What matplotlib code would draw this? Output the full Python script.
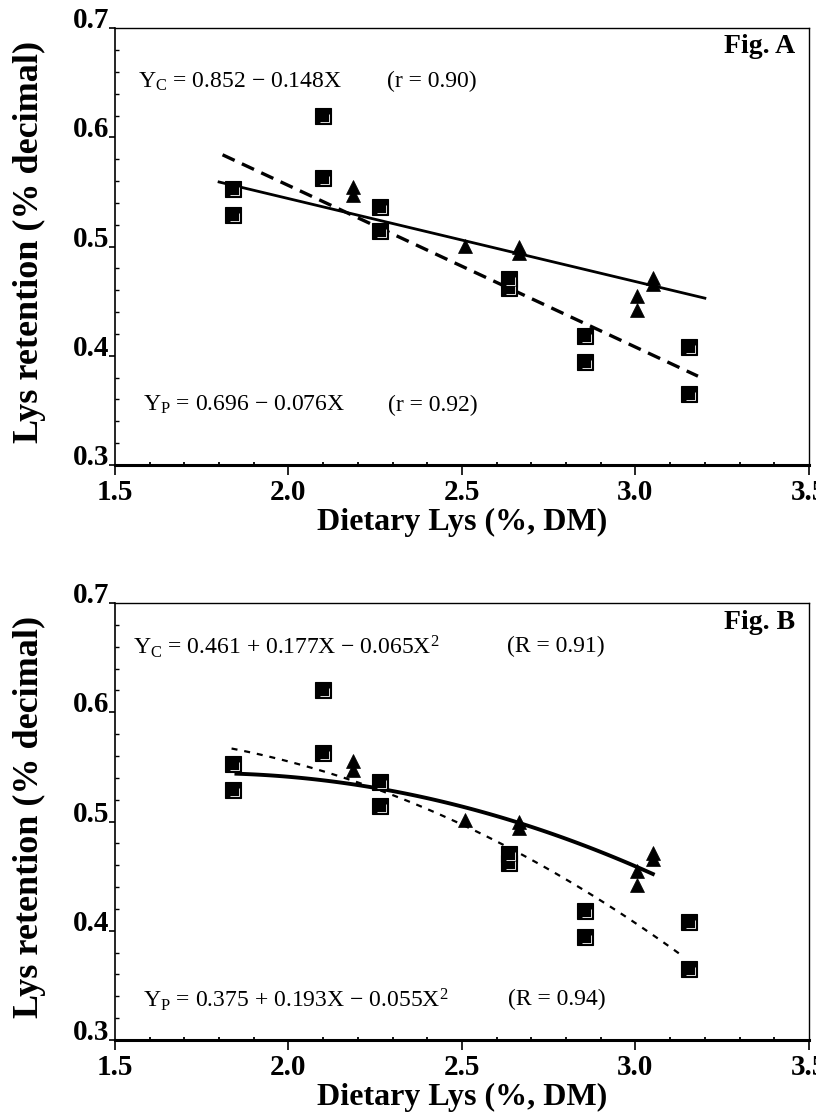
import numpy as np
import matplotlib
matplotlib.use('Agg')
import matplotlib.pyplot as plt
from matplotlib.path import Path
from matplotlib.ticker import MultipleLocator

plt.rcParams['font.family'] = ['Liberation Serif', 'DejaVu Serif']
plt.rcParams['mathtext.fontset'] = 'custom'
plt.rcParams['mathtext.rm'] = 'Liberation Serif'
plt.rcParams['mathtext.it'] = 'Liberation Serif:italic'
plt.rcParams['mathtext.bf'] = 'Liberation Serif:bold'

# ---------------- data ----------------
sq_x = [1.84, 1.84, 2.10, 2.10, 2.264, 2.264, 2.635, 2.635, 2.854, 2.854, 3.154, 3.154]
sq_y = [0.553, 0.529, 0.620, 0.563, 0.536, 0.514, 0.470, 0.462, 0.418, 0.394, 0.408, 0.365]
tri_x = [2.186, 2.186, 2.509, 2.664, 2.664, 3.004, 3.004, 3.050, 3.050]
tri_y = [0.555, 0.547, 0.501, 0.500, 0.494, 0.455, 0.442, 0.471, 0.466]

# regression coefficients (constant, X, X^2)
lin_c = [0.852, -0.148]          # Y_C, dashed (Fig. A)
lin_p = [0.696, -0.076]          # Y_P, solid  (Fig. A)
quad_c = [0.461, 0.177, -0.065]  # Y_C, dashed (Fig. B)
quad_p = [0.375, 0.193, -0.055]  # Y_P, solid  (Fig. B)
span_lin_c = [1.81, 3.18]
span_lin_p = [1.80, 3.20]
span_quad_c = [1.836, 3.14]
span_quad_p = [1.85, 3.05]

xticks = [1.5, 2.0, 2.5, 3.0, 3.5]
xticklabels = ['1.5', '2.0', '2.5', '3.0', '3.5']
yticks = [0.3, 0.4, 0.5, 0.6, 0.7]
yticklabels = ['0.3', '0.4', '0.5', '0.6', '0.7']

eqA_c = r'Y$_\mathrm{C}$ = 0.852 − 0.148X'
eqA_c_r = '(r = 0.90)'
eqA_p = r'Y$_\mathrm{P}$ = 0.696 − 0.076X'
eqA_p_r = '(r = 0.92)'
eqB_c = r'Y$_\mathrm{C}$ = 0.461 + 0.177X − 0.065X$^2$'
eqB_c_r = '(R = 0.91)'
eqB_p = r'Y$_\mathrm{P}$ = 0.375 + 0.193X − 0.055X$^2$'
eqB_p_r = '(R = 0.94)'

xlabel = 'Dietary Lys (%, DM)'
ylabel = 'Lys retention (% decimal)'

# ---------------- figure ----------------
fig = plt.figure(figsize=(8.16, 11.17), dpi=100)
axA = fig.add_axes([0.1409, 0.5837, 0.8505, 0.3910])
axB = fig.add_axes([0.1409, 0.0689, 0.8505, 0.3912])

# thin white L-shaped highlight inside the square markers
L_path = Path([(-0.5, -0.5), (0.5, 0.5), (-0.22, -0.36), (0.36, -0.36), (0.36, 0.15)],
              [Path.MOVETO, Path.MOVETO, Path.MOVETO, Path.LINETO, Path.LINETO])


def draw_points(ax):
    ax.plot(sq_x, sq_y, ls='none', marker='s', ms=11, mfc='black', mec='black', mew=0.8, zorder=4)
    ax.plot(sq_x, sq_y, ls='none', marker=L_path, ms=11, mfc='none', mec='white', mew=0.6, zorder=5)
    ax.plot(tri_x, tri_y, ls='none', marker='^', ms=10, mfc='black', mec='black', mew=0.5, zorder=4)


def style(ax):
    ax.set_xlim(1.5, 3.5)
    ax.set_ylim(0.3, 0.7)
    ax.set_xticks(xticks)
    ax.set_xticklabels(xticklabels, fontsize=21, fontweight='bold')
    ax.set_yticks(yticks)
    ax.set_yticklabels(yticklabels, fontsize=21, fontweight='bold')
    for lab in ax.get_yticklabels():
        lab.set_verticalalignment('baseline')
    ax.xaxis.set_minor_locator(MultipleLocator(0.1))
    ax.yaxis.set_minor_locator(MultipleLocator(0.02))
    ax.tick_params(axis='x', which='major', direction='out', length=7, width=1.2, pad=3)
    ax.tick_params(axis='y', which='major', direction='out', length=4, width=1.2, pad=0)
    ax.tick_params(axis='x', which='minor', direction='in', length=2.5, width=1.3)
    ax.tick_params(axis='y', which='minor', direction='in', length=3, width=1.0)
    ax.spines['bottom'].set_linewidth(2.2)
    ax.spines['left'].set_linewidth(1.2)
    ax.spines['top'].set_linewidth(1.0)
    ax.spines['right'].set_linewidth(1.0)
    ax.set_xlabel(xlabel, fontsize=23, fontweight='bold', va='center')
    ax.xaxis.set_label_coords(0.5, -0.132)
    ax.set_ylabel(ylabel, fontsize=26, fontweight='bold', va='center')
    ax.yaxis.set_label_coords(-0.1225, 0.51)


# ---- Fig. A ----
xa = np.linspace(*span_lin_c, 50)
axA.plot(xa, lin_c[0] + lin_c[1] * xa, color='black', lw=2.4, ls=(0, (4, 2.4)), zorder=3)
xa = np.linspace(*span_lin_p, 50)
axA.plot(xa, lin_p[0] + lin_p[1] * xa, color='black', lw=2.0, ls='-', zorder=3)
draw_points(axA)
style(axA)
axA.text(1.566, 0.651, eqA_c, fontsize=17, va='center', ha='left')
axA.text(2.284, 0.651, eqA_c_r, fontsize=17, va='center', ha='left')
axA.text(1.581, 0.355, eqA_p, fontsize=17, va='center', ha='left')
axA.text(2.287, 0.355, eqA_p_r, fontsize=17, va='center', ha='left')
axA.text(3.46, 0.683, 'Fig. A', fontsize=20, fontweight='bold', va='center', ha='right')

# ---- Fig. B ----
xb = np.linspace(*span_quad_c, 80)
axB.plot(xb, quad_c[0] + quad_c[1] * xb + quad_c[2] * xb ** 2, color='black', lw=1.6,
         ls=(0, (2.7, 3.1)), zorder=3)
xb = np.linspace(*span_quad_p, 80)
axB.plot(xb, quad_p[0] + quad_p[1] * xb + quad_p[2] * xb ** 2, color='black', lw=2.8,
         ls='-', zorder=3)
draw_points(axB)
style(axB)
axB.text(1.552, 0.660, eqB_c, fontsize=17, va='center', ha='left')
axB.text(2.63, 0.660, eqB_c_r, fontsize=17, va='center', ha='left')
axB.text(1.581, 0.337, eqB_p, fontsize=17, va='center', ha='left')
axB.text(2.633, 0.337, eqB_p_r, fontsize=17, va='center', ha='left')
axB.text(3.46, 0.682, 'Fig. B', fontsize=20, fontweight='bold', va='center', ha='right')

fig.savefig('out.png', dpi=100)
